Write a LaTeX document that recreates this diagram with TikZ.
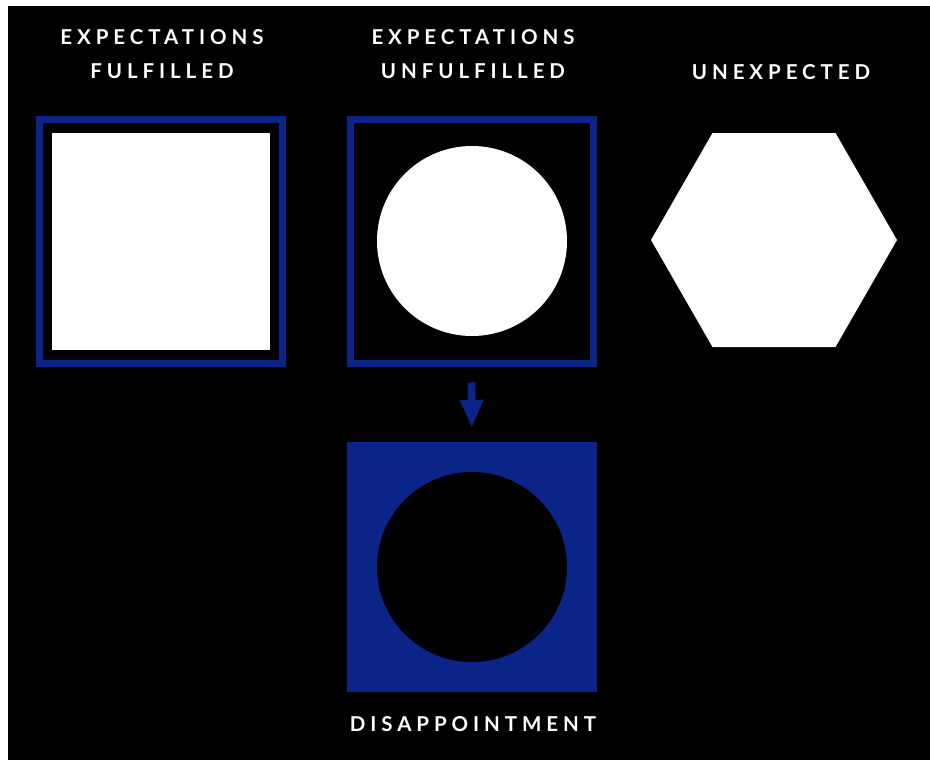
\documentclass[tikz,border=0pt]{standalone}
\usepackage{fontspec}
\newfontfamily\lbl[LetterSpace=24]{Lato}
\usetikzlibrary{arrows.meta,shapes.geometric}
\definecolor{dblue}{RGB}{10,36,135}
\tikzset{
  lab/.style={text=white,font=\lbl\bfseries\fontsize{20.5pt}{34pt}\selectfont,align=center,inner sep=0pt},
  frame/.style={draw=dblue,line width=7pt,minimum size=243pt,inner sep=0pt},
  whitebox/.style={fill=white,minimum width=218pt,minimum height=217pt,inner sep=0pt},
  disc/.style={circle,minimum size=190pt,inner sep=0pt},
  downarrow/.style={dblue,line width=8pt,-{Triangle[width=22pt,length=28pt]}}
}
\begin{document}
\begin{tikzpicture}[x=1pt,y=-1pt]
\useasboundingbox (0,0) rectangle (930,760);
\fill[white] (0,0) rectangle (930,760);
\fill[black] (8,6) rectangle (930,760);
% column 1
\node[lab] (t1) at (162,54) {EXPECTATIONS\\FULFILLED};
\node[frame] (f1) at (161,241.5) {};
\node[whitebox] (w1) at (161,241.5) {};
% column 2
\node[lab] (t2) at (473,54) {EXPECTATIONS\\UNFULFILLED};
\node[frame] (f2) at (471.5,241.5) {};
\node[disc,fill=white] (c2) at (472,241) {};
% column 3
\node[lab] (t3) at (781,72) {UNEXPECTED};
\coordinate (hc) at (774,240);
\fill[white] (651,240) -- (712.5,133) -- (835.5,133) -- (897,240) -- (835.5,347) -- (712.5,347) -- cycle;
% disappointment
\node[fill=dblue,minimum size=250pt,inner sep=0pt] (b4) at (472,567) {};
\node[disc,fill=black] (c4) at (472,567) {};
\node[lab] (t4) at (473,724) {DISAPPOINTMENT};
% arrow
\draw[downarrow,shorten <=16pt,shorten >=14pt] (f2.south) -- (b4.north);
\end{tikzpicture}
\end{document}
